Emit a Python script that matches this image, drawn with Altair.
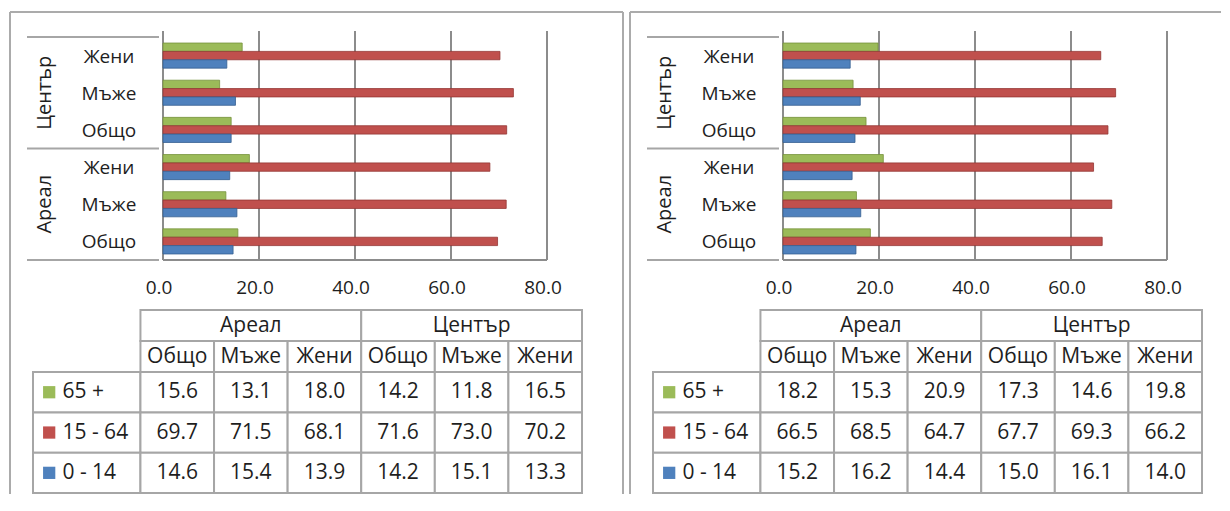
import altair as alt
import pandas as pd

# ---------------- data ----------------
groups = ["Ареал", "Център"]
subs = ["Общо", "Мъже", "Жени"]
ages = ["65 +", "15 - 64", "0 - 14"]
ticks = [0, 20, 40, 60, 80]

# column order: Ареал Общо, Мъже, Жени, Център Общо, Мъже, Жени
left_65 = [15.6, 13.1, 18.0, 14.2, 11.8, 16.5]
left_1564 = [69.7, 71.5, 68.1, 71.6, 73.0, 70.2]
left_014 = [14.6, 15.4, 13.9, 14.2, 15.1, 13.3]

right_65 = [18.2, 15.3, 20.9, 17.3, 14.6, 19.8]
right_1564 = [66.5, 68.5, 64.7, 67.7, 69.3, 66.2]
right_014 = [15.2, 16.2, 14.4, 15.0, 16.1, 14.0]

# ---------------- style ----------------
colors = ["#9BBB59", "#C0504D", "#4F81BD"]
strokes = ["#76923C", "#943634", "#365F91"]
FONT = "Open Sans"
TXT = "#1E1E1E"
GRID_C = "#8C8C8C"
LINE_C = "#A6A6A6"
FRAME_C = "#ABABAB"

PLOT_W = 549
BAR_H = 223
TABLE_H = 183
LW = 1.46          # label column width in data-column units
H0 = 0.77          # header row heights in data-row units
TOTAL_H = H0 * 2 + 3

row_order = [f"{g}|{s}" for g in reversed(groups) for s in reversed(subs)]


def bar_panel(v65, v1564, v014, frame_right, right_line):
    vals = [v65, v1564, v014]
    recs = []
    for ai, a in enumerate(ages):
        for gi, g in enumerate(groups):
            for si, s in enumerate(subs):
                recs.append({"key": f"{g}|{s}", "group": g, "sub": s,
                             "age": a, "value": vals[ai][gi * 3 + si]})
    df = pd.DataFrame(recs)
    rows = df[df["age"] == ages[0]][["key", "group", "sub"]].reset_index(drop=True)

    xs = alt.Scale(domain=[0, 80], range=[130, 514], nice=False, zero=False)
    ys = alt.Scale(domain=row_order, paddingInner=0, paddingOuter=0)

    bars = alt.Chart(df).mark_bar(strokeWidth=0.8).encode(
        x=alt.X("value:Q", scale=xs, axis=None),
        y=alt.Y("key:N", scale=ys, axis=None),
        yOffset=alt.YOffset("age:N", sort=ages,
                            scale=alt.Scale(domain=ages, paddingInner=0, paddingOuter=0.72)),
        color=alt.Color("age:N", scale=alt.Scale(domain=ages, range=colors), legend=None),
        stroke=alt.Stroke("age:N", scale=alt.Scale(domain=ages, range=strokes), legend=None),
    )

    tdf = pd.DataFrame({"t": ticks})
    grid = alt.Chart(tdf).mark_rule(color=GRID_C, strokeWidth=2).encode(
        x=alt.X("t:Q", scale=xs, axis=None),
        y=alt.value(-6), y2=alt.value(BAR_H),
    )
    tick_labels = alt.Chart(tdf).mark_text(font=FONT, fontSize=19, color=TXT,
                                           align="center", baseline="middle", dx=-4).encode(
        x=alt.X("t:Q", scale=xs, axis=None),
        y=alt.value(BAR_H + 28),
        text=alt.Text("t:Q", format=".1f"),
    )
    floor = alt.Chart(pd.DataFrame({"t": [ticks[0]], "t2": [ticks[-1]]})).mark_rule(
        color=GRID_C, strokeWidth=2).encode(
        x=alt.X("t:Q", scale=xs, axis=None), x2="t2:Q", y=alt.value(BAR_H),
    )

    sep_df = rows[rows["sub"] == subs[-1]]
    seps = alt.Chart(sep_df).mark_rule(color=LINE_C, strokeWidth=2).encode(
        y=alt.Y("key:N", scale=ys, axis=None, bandPosition=0),
        x=alt.value(-6), x2=alt.value(126),
    )
    sep_bottom = alt.Chart(pd.DataFrame({"k": [0]})).mark_rule(color=LINE_C, strokeWidth=2).encode(
        y=alt.value(BAR_H), x=alt.value(-6), x2=alt.value(126),
    )

    sub_labels = alt.Chart(rows).mark_text(font=FONT, fontSize=19, color=TXT,
                                           align="center", baseline="middle", dy=1).encode(
        y=alt.Y("key:N", scale=ys, axis=None), x=alt.value(76), text="sub:N",
    )
    grp_df = rows[rows["sub"] == subs[1]]
    grp_labels = alt.Chart(grp_df).mark_text(font=FONT, fontSize=20, color=TXT, angle=270,
                                             align="center", baseline="middle").encode(
        y=alt.Y("key:N", scale=ys, axis=None), x=alt.value(12), text="group:N",
    )

    one = pd.DataFrame({"k": [0]})
    frame_top = alt.Chart(one).mark_rule(color=FRAME_C, strokeWidth=2).encode(
        x=alt.value(-23), x2=alt.value(frame_right), y=alt.value(-25))
    frame_left = alt.Chart(one).mark_rule(color=FRAME_C, strokeWidth=2).encode(
        x=alt.value(-23), y=alt.value(-25), y2=alt.value(457))
    layers = [frame_top, frame_left]
    if right_line:
        layers.append(alt.Chart(one).mark_rule(color=FRAME_C, strokeWidth=2).encode(
            x=alt.value(frame_right), y=alt.value(-25), y2=alt.value(457)))

    layers += [seps, sep_bottom, grid, floor, bars, tick_labels, sub_labels, grp_labels]
    return alt.layer(*layers).properties(width=PLOT_W, height=BAR_H)


def table_panel(v65, v1564, v014):
    vals = [v65, v1564, v014]
    cells = []
    for gi, g in enumerate(groups):
        cells.append({"x": gi * 3, "x2": gi * 3 + 3, "y": 0, "y2": H0, "text": g})
    for c in range(6):
        cells.append({"x": c, "x2": c + 1, "y": H0, "y2": 2 * H0, "text": subs[c % 3]})
    labels = []
    for ai, a in enumerate(ages):
        y0 = 2 * H0 + ai
        cells.append({"x": -LW, "x2": 0, "y": y0, "y2": y0 + 1, "text": ""})
        for c in range(6):
            cells.append({"x": c, "x2": c + 1, "y": y0, "y2": y0 + 1,
                          "text": f"{vals[ai][c]:.1f}"})
        labels.append({"age": a, "lx": -LW + 0.40, "sx": -LW + 0.22, "cy": y0 + 0.5})
    cdf = pd.DataFrame(cells)
    cdf["cx"] = (cdf["x"] + cdf["x2"]) / 2
    cdf["cy"] = (cdf["y"] + cdf["y2"]) / 2
    ldf = pd.DataFrame(labels)

    xs = alt.Scale(domain=[-LW, 6], range=[0, PLOT_W], nice=False, zero=False)
    ys = alt.Scale(domain=[0, TOTAL_H], range=[0, TABLE_H], nice=False, zero=False)

    rects = alt.Chart(cdf).mark_rect(fill="white", stroke=LINE_C, strokeWidth=2).encode(
        x=alt.X("x:Q", scale=xs, axis=None), x2="x2:Q",
        y=alt.Y("y:Q", scale=ys, axis=None), y2="y2:Q",
    )
    texts = alt.Chart(cdf).mark_text(font=FONT, fontSize=21, color=TXT,
                                     align="center", baseline="middle").encode(
        x=alt.X("cx:Q", scale=xs, axis=None), y=alt.Y("cy:Q", scale=ys, axis=None),
        text="text:N",
    )
    sw = alt.Chart(ldf).mark_square(size=150, opacity=1, filled=True).encode(
        x=alt.X("sx:Q", scale=xs, axis=None), y=alt.Y("cy:Q", scale=ys, axis=None),
        color=alt.Color("age:N", scale=alt.Scale(domain=ages, range=colors), legend=None),
    )
    lt = alt.Chart(ldf).mark_text(font=FONT, fontSize=21, color=TXT,
                                  align="left", baseline="middle").encode(
        x=alt.X("lx:Q", scale=xs, axis=None), y=alt.Y("cy:Q", scale=ys, axis=None),
        text="age:N",
    )
    return alt.layer(rects, texts, sw, lt).properties(width=PLOT_W, height=TABLE_H)


chart = alt.concat(
    bar_panel(left_65, left_1564, left_014, 590, True),
    bar_panel(right_65, right_1564, right_014, 568, False),
    table_panel(left_65, left_1564, left_014),
    table_panel(right_65, right_1564, right_014),
    columns=2, spacing={"row": 50, "column": 71}, bounds="flush",
).properties(
    padding={"left": 1, "top": 3, "right": 0, "bottom": 0}
).configure_view(stroke=None)

chart.save("out.html", embed_options={"renderer": "svg", "actions": False})
